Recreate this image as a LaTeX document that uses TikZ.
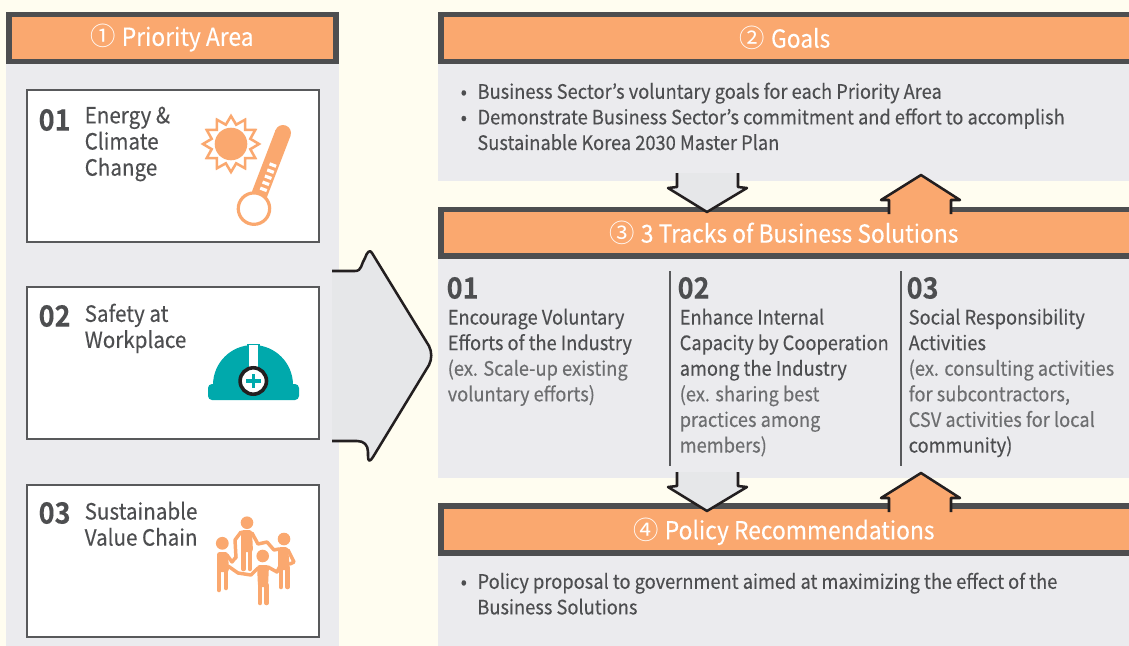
\documentclass[tikz,border=0pt]{standalone}
\usepackage{fontspec}
\setmainfont[FakeBold=0.25,FakeStretch=0.92,BoldFont={Noto Sans CJK KR Bold}]{Noto Sans CJK KR}
\newfontfamily\cjkf{Noto Sans CJK KR}
\definecolor{cream}{HTML}{FFFDF0}
\definecolor{panelg}{HTML}{EBEBEE}
\definecolor{darkb}{HTML}{4D4E50}
\definecolor{orng}{HTML}{FAA86F}
\definecolor{boxl}{HTML}{58595B}
\definecolor{txt}{HTML}{4D4E50}
\definecolor{soft}{HTML}{6D6E70}
\definecolor{arrowg}{HTML}{E6E7E9}
\definecolor{arrowl}{HTML}{231F20}
\definecolor{teal}{HTML}{00A9AC}
\tikzset{
 head/.style={anchor=center,text=white,font=\fontsize{18.6}{20}\selectfont},
 num/.style={anchor=west,text=txt,font=\fontsize{22}{24}\selectfont\bfseries},
 label/.style={anchor=north west,text=txt,align=left,font=\fontsize{16.8}{19.6}\selectfont},
 body/.style={anchor=north west,text=txt,align=left,font=\fontsize{14.9}{19.2}\selectfont},
 card/.style={draw=boxl,line width=2.2pt,fill=white},
 conn/.style={draw=arrowl,line width=1.9pt,line join=round},
 ppl/.style={draw=orng,line width=3.4pt,line cap=round,line join=round},
 arm/.style={draw=orng,line width=2.6pt,line cap=round,line join=round},
}
\newcommand{\hd}[1]{{\cjkf\fontsize{19}{20}\selectfont #1}\hspace{4.5pt}}
\begin{document}
\begin{tikzpicture}[x=0.75pt,y=-0.75pt]
\useasboundingbox (0,0) rectangle (1129,646);
\fill[cream] (0,0) rectangle (1129,646);
% panels
\fill[panelg] (6,12) rectangle (339,646);
\fill[panelg] (438,12) rectangle (1129,181);
\fill[panelg] (438,207) rectangle (1129,478);
\fill[panelg] (438,504) rectangle (1129,646);
% big arrow
\path[fill=arrowg] (332,271) -- (355,271) .. controls (362,271) and (361,264) .. (365,258) .. controls (367,252) and (370,249) .. (372,253) -- (429,346) .. controls (432,352) and (432,359) .. (429,365) -- (373,457) .. controls (370,462) and (368,462) .. (368,456) -- (368,452) .. controls (368,445) and (364,441) .. (357,441) -- (332,441) -- cycle;
\draw[conn] (332,271) -- (355,271) .. controls (362,271) and (361,264) .. (365,258) .. controls (367,252) and (370,249) .. (372,253) -- (429,346) .. controls (432,352) and (432,359) .. (429,365) -- (373,457) .. controls (370,462) and (368,462) .. (368,456) -- (368,452) .. controls (368,445) and (364,441) .. (357,441) -- (332,441);
% headers
\fill[darkb] (6,12) rectangle (339,64); \fill[orng] (12,17) rectangle (333,59);
\fill[darkb] (438,12) rectangle (1129,64); \fill[orng] (444,17) rectangle (1129,59);
\fill[darkb] (438,207) rectangle (1129,259); \fill[orng] (444,212) rectangle (1129,253);
\fill[darkb] (438,503) rectangle (1129,556); \fill[orng] (444,509) rectangle (1129,550);
\node[head] (h1) at (172,38) {\hd{①}Priority Area};
\node[head] (h2) at (785,38) {\hd{②}Goals};
\node[head] (h3) at (784,233) {\hd{③}3 Tracks of Business Solutions};
\node[head] (h4) at (784,531.5) {\hd{④}Policy Recommendations};
% cards
\draw[card] (27,90) rectangle (319,242);
\draw[card] (27,287) rectangle (319,439);
\draw[card] (27,485) rectangle (319,637);
\node[num] (n1) at (34,120) {01};
\node[num] (n2) at (34,316) {02};
\node[num] (n3) at (34,513) {03};
\node[label] (l1) at (80,102) {Energy \&\\Climate\\Change};
\node[label] (l2) at (80,299) {Safety at\\Workplace};
\node[label] (l3) at (80,497) {Sustainable\\Value Chain};
% goals
\node[body] (g1) at (456,78) {•\hspace{8pt}Business Sector's voluntary goals for each Priority Area\\•\hspace{8pt}Demonstrate Business Sector's commitment and effort to accomplish\\\hspace*{12.5pt}Sustainable Korea 2030 Master Plan};
% small arrows
\path[fill=arrowg] (677,173) -- (677,188) -- (668,188) -- (707,212) -- (747,188) -- (738,188) -- (738,173) -- cycle;
\draw[conn] (677,173) -- (677,187) -- (668,188) -- (707,212) -- (747,188) -- (738,187) -- (738,173);
\path[fill=orng] (889,214) -- (889,200) -- (881,200) -- (921,175) -- (960,200) -- (951,200) -- (951,214) -- cycle;
\draw[conn] (889,214) -- (889,200) -- (881,200) -- (921,175) -- (960,200) -- (951,200) -- (951,214);
\path[fill=arrowg] (677,472) -- (677,487) -- (668,487) -- (707,511) -- (747,487) -- (738,487) -- (738,472) -- cycle;
\draw[conn] (677,472) -- (677,486) -- (668,487) -- (707,511) -- (747,487) -- (738,486) -- (738,472);
\path[fill=orng] (889,512) -- (889,498) -- (881,498) -- (921,473) -- (960,498) -- (951,498) -- (951,512) -- cycle;
\draw[conn] (889,512) -- (889,498) -- (881,498) -- (921,473) -- (960,498) -- (951,498) -- (951,512);
% tracks
\draw[boxl,line width=0.9pt] (670,271) -- (670,466);
\draw[boxl,line width=0.9pt] (901,271) -- (901,466);
\node[num] (t1) at (442,288) {01};
\node[num] (t2) at (673,288) {02};
\node[num] (t3) at (902,288) {03};
\node[body] (b1) at (443,304) {Encourage Voluntary\\Efforts of the Industry\\{\color{soft}(ex. Scale-up existing}\\{\color{soft}voluntary efforts)}};
\node[body] (b2) at (675,304) {Enhance Internal\\Capacity by Cooperation\\among the Industry\\{\color{soft}(ex. sharing best}\\{\color{soft}practices among}\\{\color{soft}members)}};
\node[body] (b3) at (904,304) {Social Responsibility\\Activities\\{\color{soft}(ex. consulting activities}\\{\color{soft}for subcontractors,}\\{\color{soft}CSV activities for local}\\community)};
\node[body] (p1) at (456,568) {•\hspace{8pt}Policy proposal to government aimed at maximizing the effect of the\\\hspace*{12.5pt}Business Solutions};
% sun
\begin{scope}[shift={(231,144)}]
\draw[orng,line width=1.9pt,fill=white,line join=miter]
  (0:28) -- (15:20) -- (30:28) -- (45:20) -- (60:28) -- (75:20) -- (90:28) -- (105:20) -- (120:28) -- (135:20) -- (150:28) -- (165:20) -- (180:28) -- (195:20) -- (210:28) -- (225:20) -- (240:28) -- (255:20) -- (270:28) -- (285:20) -- (300:28) -- (315:20) -- (330:28) -- (345:20) -- cycle;
\fill[orng] (0,0) circle[radius=16.3];
\end{scope}
% thermometer
\begin{scope}[shift={(283,133)},rotate=249]
 \draw[orng,line width=12pt] (0,0) -- (66,0);
 \fill[orng] (0,0) circle[radius=8];
 \foreach \t in {32,38.5,45,51.5,58} \fill[white] (\t,-5.5) rectangle (\t+3.2,1.5);
 \draw[orng,line width=2.4pt,fill=white] (81,0) circle[radius=15.7];
\end{scope}
% helmet
\fill[teal] (213,385) arc[start angle=180,end angle=360,radius=40] -- cycle;
\fill[teal,rounded corners=3pt] (208,384) rectangle (299,400);
\fill[teal] (247,343.5) rectangle (259.5,350);
\fill[white] (249,345) rectangle (258,370);
\draw[arrowl,line width=2.7pt,fill=white] (253.3,381) circle[radius=13.2];
\fill[teal] (246,379.2) rectangle (260.6,382.8);
\fill[teal] (251.5,374) rectangle (255.1,388);
% people
\fill[orng] (222.3,543.3) circle[radius=6.4];
\fill[orng] (247,522.7) circle[radius=6.3];
\fill[orng] (284,539) circle[radius=6.3];
\fill[orng] (262.7,556) circle[radius=6.3];
\fill[orng,rounded corners=2pt] (217,552) -- (228,552) -- (229,572) -- (217,572) -- cycle;
\draw[ppl] (219,570) -- (219,590);
\draw[ppl] (226,570) -- (226,588);
\fill[orng,rounded corners=2pt] (241,530) -- (252,530) -- (253,552) -- (241,552) -- cycle;
\draw[ppl] (243.5,550) -- (243.5,569);
\draw[ppl] (250,550) -- (250,569);
\fill[orng,rounded corners=2pt] (278,547) -- (288,547) -- (290,570) -- (278,570) -- cycle;
\draw[ppl] (281,568) -- (281,587);
\draw[ppl] (287.5,568) -- (287.5,587);
\fill[orng,rounded corners=2pt] (257,565) -- (269,565) -- (268,587) -- (258,587) -- cycle;
\draw[ppl] (260,585) -- (260,603);
\draw[ppl] (266.5,585) -- (266.5,603);
\draw[arm] (241,532) -- (235,540) -- (236,558);
\draw[arm] (252,533) -- (258,544) -- (267,542) -- (274,550) -- (279,549);
\draw[arm] (288,550) -- (294,562) -- (290,564);
\draw[arm] (258,568) -- (251,575) -- (238,573) -- (228,566);
\draw[arm] (268,567) -- (277,572) -- (280,566);
\draw[arm] (227,555) -- (232,562) -- (236,557);
\end{tikzpicture}
\end{document}
